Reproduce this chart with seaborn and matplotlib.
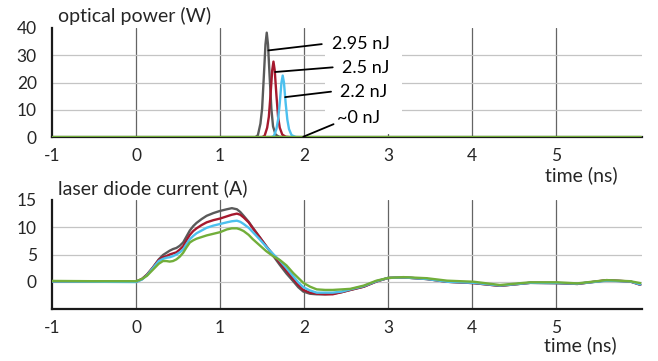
import numpy as np
import pandas as pd
import matplotlib
matplotlib.use("Agg")
import matplotlib.pyplot as plt
from matplotlib.patches import Rectangle
import seaborn as sns

# ---------------- data ----------------
series_names = ["2.95 nJ", "2.5 nJ", "2.2 nJ", "~0 nJ"]
colors = ["#5a5a5a", "#a6192e", "#4cc0ee", "#72ae3a"]

# optical power (W)
t_p_gray = [-1, 1.42, 1.45, 1.48, 1.50, 1.52, 1.54, 1.555, 1.57, 1.59, 1.61, 1.63, 1.66, 1.70, 1.75, 6]
p_gray = [0, 0, 0.8, 5, 10.5, 22, 34, 38.3, 34, 22, 10.5, 4, 1, 0.2, 0, 0]
t_p_red = [-1, 1.50, 1.53, 1.56, 1.58, 1.60, 1.62, 1.635, 1.65, 1.67, 1.69, 1.71, 1.74, 1.78, 1.84, 6]
p_red = [0, 0, 0.6, 3.5, 7.5, 15.5, 24.5, 27.7, 24.5, 15.5, 7.5, 3.5, 1, 0.2, 0, 0]
t_p_blue = [-1, 1.61, 1.64, 1.67, 1.69, 1.71, 1.73, 1.745, 1.76, 1.78, 1.80, 1.82, 1.85, 1.90, 1.96, 6]
p_blue = [0, 0, 0.5, 3, 6.5, 12.5, 20, 22.6, 20, 12.5, 6.5, 3, 0.8, 0.1, 0, 0]
t_p_green = [-1, 6]
p_green = [0.2, 0.2]

# laser diode current (A)
t_cur = [-1, -0.5, 0, 0.07, 0.13, 0.2, 0.27, 0.32, 0.36, 0.40, 0.44, 0.48, 0.52, 0.56, 0.60,
         0.64, 0.68, 0.72, 0.78, 0.84, 0.92, 1.0, 1.08, 1.14, 1.2, 1.24, 1.28, 1.34, 1.39,
         1.47, 1.55, 1.63, 1.71, 1.79, 1.87, 1.93, 1.99, 2.07, 2.15, 2.25, 2.34, 2.45, 2.55,
         2.71, 2.86, 3.0, 3.18, 3.46, 3.70, 4.02, 4.33, 4.69, 5.01, 5.25, 5.60, 5.88, 6.0]
i_gray = [0.1, 0.05, 0, 0.5, 1.3, 2.6, 4.1, 4.9, 5.3, 5.7, 6.0, 6.2, 6.6, 7.2, 8.3,
          9.4, 10.2, 10.8, 11.5, 12.1, 12.6, 13.0, 13.3, 13.5, 13.3, 12.8, 12.1, 11.0, 9.9,
          8.2, 6.5, 4.8, 3.1, 1.5, 0.1, -1.0, -1.8, -2.2, -2.3, -2.3, -2.2, -1.9, -1.5,
          -0.9, 0.05, 0.7, 0.8, 0.5, 0.0, -0.25, -0.75, -0.2, -0.25, -0.4, 0.25, 0.05, -0.55]
i_red = [0.1, 0.05, 0, 0.5, 1.3, 2.6, 4.0, 4.5, 4.7, 5.0, 5.2, 5.4, 5.9, 6.5, 7.6,
         8.6, 9.3, 9.8, 10.4, 10.9, 11.3, 11.6, 12.0, 12.3, 12.5, 12.3, 11.8, 10.9, 9.8,
         8.2, 6.5, 5.0, 3.5, 2.0, 0.5, -0.6, -1.5, -2.0, -2.2, -2.3, -2.3, -1.9, -1.5,
         -0.9, 0.05, 0.7, 0.8, 0.5, 0.0, -0.25, -0.75, -0.2, -0.25, -0.4, 0.3, 0.05, -0.55]
i_blue = [0.05, 0.0, -0.05, 0.4, 1.2, 2.5, 3.8, 4.2, 4.4, 4.5, 4.7, 5.0, 5.4, 5.9, 6.9,
          7.8, 8.4, 8.9, 9.4, 9.9, 10.3, 10.6, 10.9, 11.1, 11.2, 11.0, 10.6, 9.9, 9.1,
          7.8, 6.4, 5.1, 3.9, 2.5, 1.0, -0.1, -1.0, -1.6, -2.0, -2.0, -2.0, -1.8, -1.4,
          -0.8, 0.1, 0.7, 0.8, 0.5, 0.0, -0.2, -0.7, -0.2, -0.25, -0.35, 0.2, 0.05, -0.5]
i_green = [0.15, 0.1, 0.1, 0.5, 1.1, 2.2, 3.3, 3.8, 3.8, 3.7, 3.8, 4.1, 4.6, 5.3, 6.3,
           7.2, 7.6, 7.9, 8.2, 8.5, 8.8, 9.1, 9.6, 9.8, 9.8, 9.6, 9.3, 8.6, 7.8,
           6.7, 5.6, 4.7, 4.0, 3.0, 1.6, 0.7, -0.2, -0.9, -1.4, -1.5, -1.5, -1.4, -1.3,
           -0.7, 0.2, 0.7, 0.85, 0.65, 0.2, 0.0, -0.6, -0.1, -0.1, -0.3, 0.3, 0.1, -0.25]

x_ticks = [-1, 0, 1, 2, 3, 4, 5]
x_ticklabels = ["-1", "0", "1", "2", "3", "4", "5"]
p_ticks = [0, 10, 20, 30, 40]
i_ticks = [0, 5, 10, 15]

# annotation leader lines (curve point -> label point) and label anchors
lead_start = [(1.575, 31.8), (1.655, 23.9), (1.774, 14.7), (1.99, 0.2)]
lead_end = [(2.21, 34.1), (2.34, 25.6), (2.32, 16.7), (2.35, 4.8)]
label_pos = [(2.33, 34.1), (2.45, 25.3), (2.43, 16.6), (2.39, 7.0)]

# ---------------- frames ----------------
top_t = [t_p_gray, t_p_red, t_p_blue, t_p_green]
top_v = [p_gray, p_red, p_blue, p_green]
df_top = pd.concat([pd.DataFrame({"t": t, "v": v, "s": n})
                    for t, v, n in zip(top_t, top_v, series_names)], ignore_index=True)
bot_v = [i_gray, i_red, i_blue, i_green]
df_bot = pd.concat([pd.DataFrame({"t": t_cur, "v": v, "s": n})
                    for v, n in zip(bot_v, series_names)], ignore_index=True)

# ---------------- style ----------------
sns.set_theme(style="white")
plt.rcParams["font.family"] = ["Lato", "DejaVu Sans"]
plt.rcParams["axes.unicode_minus"] = False
txt_col = "#262626"
fs_tick = 12.5
fs_ann = 13
fs_title = 14

fig = plt.figure(figsize=(6.58, 3.61), dpi=100)
W, H = 658, 361
ax1 = fig.add_axes([52 / W, 1 - 137.3 / H, 590 / W, 109.3 / H])
ax2 = fig.add_axes([52 / W, 1 - 309 / H, 590 / W, 109 / H])

pal = dict(zip(series_names, colors))
sns.lineplot(data=df_top, x="t", y="v", hue="s", hue_order=series_names, palette=pal,
             estimator=None, sort=False, legend=False, ax=ax1, linewidth=1.7, zorder=3)
sns.lineplot(data=df_bot, x="t", y="v", hue="s", hue_order=series_names, palette=pal,
             estimator=None, sort=False, legend=False, ax=ax2, linewidth=1.7, zorder=3)
ax1.lines[3].set_linewidth(2.4)

for ax, yt, ylim in [(ax1, p_ticks, (0, 40)), (ax2, i_ticks, (-5, 15))]:
    ax.set_xlim(-1, 6.02)
    ax.set_ylim(*ylim)
    ax.set_xticks(x_ticks)
    ax.set_xticklabels(x_ticklabels)
    ax.set_yticks(yt)
    ax.set_yticklabels([str(v) for v in yt])
    ax.set_xlabel("")
    ax.set_ylabel("")
    ax.set_facecolor("white")
    for s in ["top", "right"]:
        ax.spines[s].set_visible(False)
    for s in ["left", "bottom"]:
        ax.spines[s].set_color("#1a1a1a")
        ax.spines[s].set_linewidth(1.6)
        ax.spines[s].set_zorder(2.5)
    ax.tick_params(axis="both", direction="in", length=3.5, width=1.0, color="#1a1a1a",
                   labelsize=fs_tick, labelcolor=txt_col)
    ax.tick_params(axis="x", pad=8)
    ax.tick_params(axis="y", pad=11)
    ax.set_axisbelow(True)
    ax.xaxis.grid(True, color="#646464", linewidth=0.9)
    ax.yaxis.grid(True, color="#c4c4c4", linewidth=0.9)
    ax.get_ygridlines()[-1].set_visible(False)
    ax.get_xgridlines()[0].set_visible(False)

# white area behind the labels in the top panel
ax1.add_patch(Rectangle((2.25, 1.2), 0.92, 40, facecolor="white", edgecolor="none", zorder=1))

for (x0, y0), (x1, y1), (tx, ty), name in zip(lead_start, lead_end, label_pos, series_names):
    ax1.plot([x0, x1], [y0, y1], color="black", linewidth=1.3, zorder=4)
    ax1.text(tx, ty, name, fontsize=fs_ann, color="black", ha="left", va="center", zorder=5)

fig.text(58 / W, 1 - 15.5 / H, "optical power (W)", fontsize=fs_title, color=txt_col, ha="left", va="center")
fig.text(58 / W, 1 - 188 / H, "laser diode current (A)", fontsize=fs_title, color=txt_col, ha="left", va="center")
fig.text(581 / W, 1 - 175 / H, "time (ns)", fontsize=fs_title, color=txt_col, ha="center", va="center")
fig.text(580 / W, 1 - 345 / H, "time (ns)", fontsize=fs_title, color=txt_col, ha="center", va="center")

fig.savefig("out.png", dpi=100, facecolor="white")
